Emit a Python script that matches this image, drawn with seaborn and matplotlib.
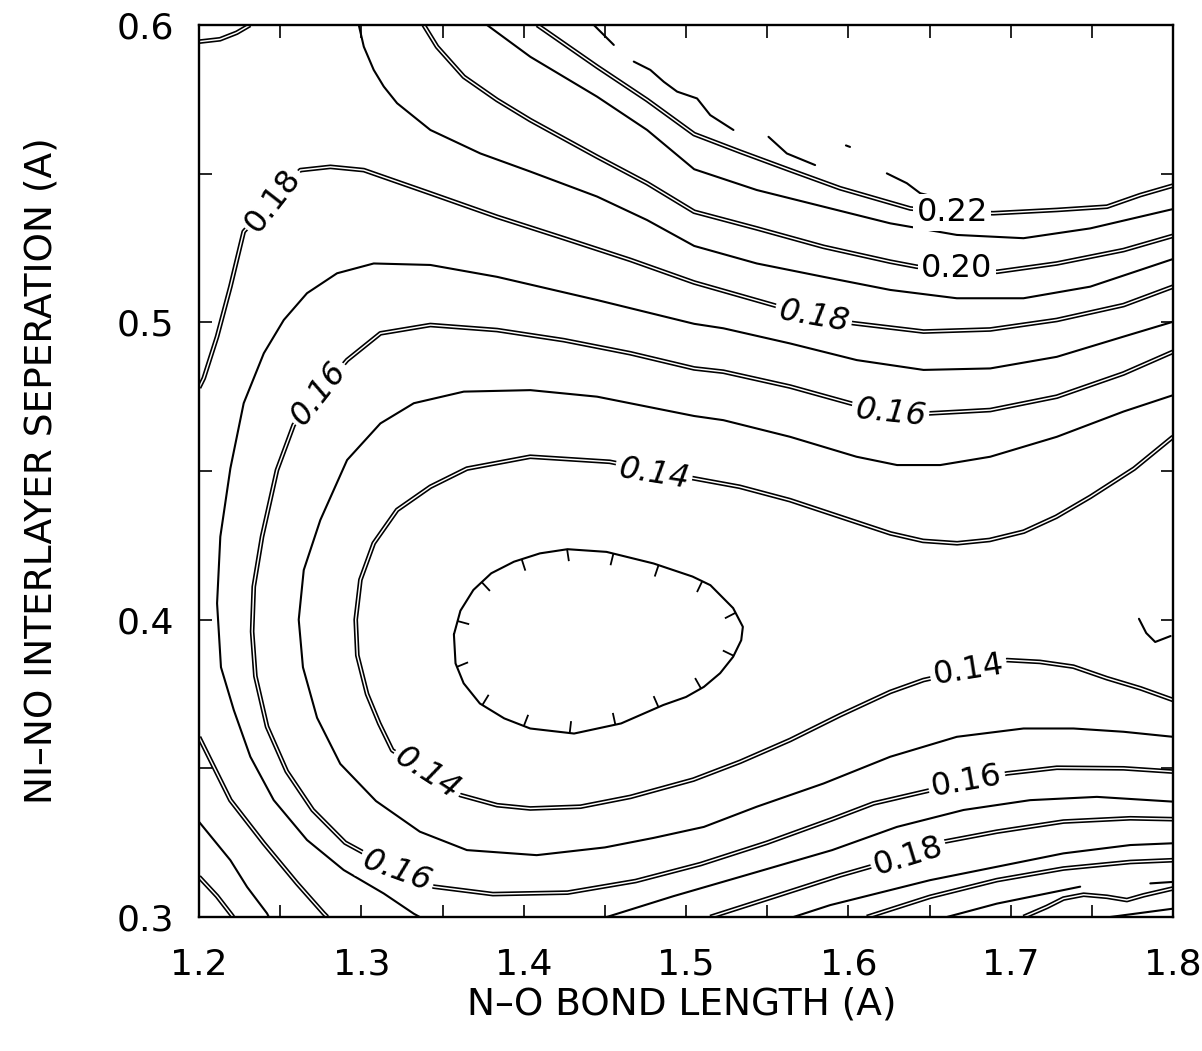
import numpy as np
import matplotlib
matplotlib.use("Agg")
import matplotlib.pyplot as plt
import matplotlib.patheffects as pe
from matplotlib.ticker import MultipleLocator, FormatStrFormatter
import seaborn as sns

# Contour lines of the energy surface.
# x: N-O bond length (A), y: Ni-NO interlayer separation (A)

# 0.13 - closed minimum (hachured) and a small dip at the right edge
c13_loop_x = [1.357, 1.361, 1.369, 1.380, 1.394, 1.410, 1.427, 1.451, 1.480, 1.504, 1.515, 1.529, 1.535,
              1.534, 1.529, 1.521, 1.511, 1.500, 1.486, 1.460, 1.431, 1.404, 1.388, 1.373, 1.363, 1.358, 1.357]
c13_loop_y = [0.395, 0.403, 0.410, 0.4156, 0.4195, 0.4223, 0.4237, 0.4228, 0.4189, 0.4145, 0.4116, 0.4039, 0.3976,
              0.3931, 0.3875, 0.3820, 0.3774, 0.3740, 0.3713, 0.3651, 0.3617, 0.3634, 0.3668, 0.3718, 0.3786, 0.3853, 0.395]
c13_edge_x = [1.779, 1.7835, 1.789, 1.7985]
c13_edge_y = [0.4003, 0.3955, 0.3925, 0.3945]

# 0.14
c14_x = [1.800, 1.776, 1.749, 1.728, 1.708, 1.687, 1.667, 1.646, 1.626, 1.595, 1.564, 1.533, 1.505, 1.481,
         1.453, 1.404, 1.365, 1.3425, 1.322, 1.3076, 1.2994, 1.2965, 1.2975, 1.3035, 1.311, 1.319, 1.3405,
         1.361, 1.3836, 1.404, 1.435, 1.4658, 1.5045, 1.5333, 1.564, 1.595, 1.6258, 1.6463, 1.674, 1.6977,
         1.718, 1.7386, 1.7593, 1.780, 1.800]
c14_y = [0.4615, 0.4508, 0.4413, 0.4346, 0.4296, 0.4268, 0.4257, 0.4265, 0.4290, 0.4346, 0.4402, 0.4447, 0.4475,
         0.4500, 0.4531, 0.4548, 0.4508, 0.4447, 0.4369, 0.4257, 0.4134, 0.4000, 0.3880, 0.3750, 0.3651, 0.3561,
         0.3483, 0.3410, 0.3376, 0.3365, 0.3371, 0.3404, 0.3462, 0.3522, 0.3595, 0.3679, 0.3757, 0.3797, 0.3830,
         0.3864, 0.3858, 0.3842, 0.3803, 0.3769, 0.3730]

# 0.15
c15_x = [1.800, 1.7695, 1.7284, 1.6874, 1.6566, 1.630, 1.605, 1.5641, 1.523, 1.505, 1.4452, 1.4041, 1.3631,
         1.3323, 1.3117, 1.2912, 1.2747, 1.2645, 1.2614, 1.264, 1.2727, 1.287, 1.309, 1.336, 1.365, 1.408,
         1.450, 1.480, 1.511, 1.5436, 1.5847, 1.6258, 1.6668, 1.7079, 1.7387, 1.7695, 1.800]
c15_y = [0.4755, 0.4700, 0.4615, 0.4548, 0.4520, 0.4520, 0.4548, 0.4615, 0.4671, 0.4685, 0.4750, 0.4772, 0.4767,
         0.4728, 0.4660, 0.4537, 0.4335, 0.4167, 0.4000, 0.3840, 0.3670, 0.3515, 0.3390, 0.3287, 0.3225, 0.3208,
         0.3234, 0.3266, 0.3303, 0.3371, 0.3449, 0.3539, 0.3606, 0.3634, 0.3634, 0.3623, 0.3606]

# 0.16
c16_x = [1.800, 1.7695, 1.7284, 1.6874, 1.6504, 1.6258, 1.6011, 1.5641, 1.523, 1.505, 1.4657, 1.4247, 1.3836,
         1.3425, 1.3117, 1.2912, 1.2737, 1.2583, 1.248, 1.2388, 1.2337, 1.2327, 1.2347, 1.2419, 1.254, 1.270,
         1.290, 1.322, 1.3446, 1.381, 1.427, 1.469, 1.509, 1.550, 1.590, 1.6155, 1.6463, 1.673, 1.6977, 1.7284,
         1.7695, 1.800]
c16_y = [0.4901, 0.4828, 0.4750, 0.4705, 0.4694, 0.4694, 0.4728, 0.4784, 0.4834, 0.4845, 0.4896, 0.4940, 0.4974,
         0.4991, 0.4963, 0.4873, 0.4761, 0.4655, 0.4503, 0.4279, 0.4111, 0.3960, 0.3810, 0.3640, 0.3490, 0.3360,
         0.3250, 0.3155, 0.3102, 0.3077, 0.3082, 0.3121, 0.3178, 0.3250, 0.3329, 0.3382, 0.3421, 0.3455, 0.3483,
         0.3502, 0.3500, 0.3489]

# 0.17
c17_x = [1.800, 1.7695, 1.7284, 1.6874, 1.6463, 1.6052, 1.5641, 1.523, 1.505, 1.4452, 1.3836, 1.3425, 1.3076,
         1.285, 1.2665, 1.2522, 1.2399, 1.2275, 1.2193, 1.2131, 1.2111, 1.2135, 1.2214, 1.2316, 1.246, 1.2665,
         1.2891, 1.3138, 1.3323, 1.336]
c17_y = [0.5002, 0.4952, 0.4884, 0.4845, 0.4840, 0.4873, 0.4929, 0.4980, 0.4995, 0.5075, 0.5153, 0.5193, 0.5198,
         0.5165, 0.5098, 0.5008, 0.4896, 0.4728, 0.4509, 0.4279, 0.4055, 0.3840, 0.3696, 0.3539, 0.3393, 0.3259,
         0.3158, 0.3079, 0.3011, 0.3000]
c17_lr_x = [1.4512, 1.4922, 1.5333, 1.590, 1.6299, 1.671, 1.712, 1.7531, 1.800]
c17_lr_y = [0.3000, 0.3070, 0.3135, 0.3225, 0.3303, 0.3360, 0.3393, 0.3404, 0.3388]

# 0.18
c18_ul_x = [1.200, 1.2029, 1.2111, 1.2193, 1.2275, 1.245, 1.2624, 1.2809, 1.3015, 1.3425, 1.3836, 1.4247,
            1.4657, 1.505, 1.5539, 1.5785, 1.6032, 1.6463, 1.6874, 1.7284, 1.7695, 1.800]
c18_ul_y = [0.4780, 0.4812, 0.4952, 0.5120, 0.5305, 0.5410, 0.5512, 0.5523, 0.5512, 0.5434, 0.5355, 0.5283,
            0.5210, 0.5134, 0.5058, 0.5019, 0.4997, 0.4969, 0.4976, 0.5008, 0.5058, 0.5120]
c18_corner_x = [1.200, 1.2129, 1.2232, 1.2314]
c18_corner_y = [0.5944, 0.5952, 0.5974, 0.6000]
c18_ll_x = [1.200, 1.207, 1.2193, 1.2399, 1.2604, 1.2768, 1.279]
c18_ll_y = [0.3605, 0.3528, 0.3393, 0.3248, 0.3113, 0.3012, 0.3000]
c18_lr_x = [1.5149, 1.5539, 1.5949, 1.6134, 1.637, 1.6586, 1.6915, 1.7325, 1.7737, 1.800]
c18_lr_y = [0.3000, 0.3068, 0.3140, 0.3169, 0.3205, 0.3253, 0.3287, 0.3321, 0.3332, 0.3329]

# 0.19
c19_up_x = [1.2984, 1.3015, 1.3076, 1.3138, 1.322, 1.3425, 1.3733, 1.4041, 1.4452, 1.476, 1.505, 1.5436,
            1.5847, 1.6258, 1.6668, 1.7079, 1.749, 1.800]
c19_up_y = [0.6000, 0.5927, 0.5849, 0.5793, 0.5737, 0.5647, 0.5568, 0.5507, 0.5423, 0.5344, 0.5257, 0.5198,
            0.5153, 0.5109, 0.5081, 0.5081, 0.5120, 0.5213]
c19_ll_x = [1.200, 1.2193, 1.2296, 1.2419, 1.243]
c19_ll_y = [0.3320, 0.3191, 0.3101, 0.3012, 0.3000]
c19_lr_x = [1.5662, 1.5888, 1.6504, 1.6915, 1.7325, 1.7737, 1.800]
c19_lr_y = [0.3000, 0.3040, 0.3124, 0.3169, 0.3214, 0.3242, 0.3248]

# 0.20
c20_up_x = [1.3384, 1.3466, 1.3631, 1.3836, 1.4041, 1.4452, 1.476, 1.505, 1.5436, 1.5847, 1.6258, 1.6422,
            1.6668, 1.6915, 1.7284, 1.7695, 1.800]
c20_up_y = [0.6000, 0.5927, 0.5826, 0.5748, 0.5680, 0.5557, 0.5468, 0.5372, 0.5316, 0.5254, 0.5204, 0.5187,
            0.5180, 0.5170, 0.5198, 0.5243, 0.5291]
c20_ll_x = [1.200, 1.2111, 1.2193, 1.221]
c20_ll_y = [0.3135, 0.3070, 0.3012, 0.3000]
c20_lr_x = [1.6114, 1.6504, 1.6915, 1.7325, 1.7737, 1.800]
c20_lr_y = [0.3000, 0.3068, 0.3124, 0.3163, 0.3185, 0.3191]

# 0.21
c21_up_x = [1.3774, 1.4041, 1.4452, 1.476, 1.505, 1.5436, 1.5847, 1.6258, 1.6668, 1.7079, 1.749, 1.800]
c21_up_y = [0.6000, 0.5893, 0.5759, 0.5647, 0.5515, 0.5445, 0.5389, 0.5333, 0.5294, 0.5283, 0.5316, 0.5381]
c21_lr_x = [1.6607, 1.6915, 1.7428]
c21_lr_y = [0.3000, 0.3045, 0.3102]
c21_edge_x = [1.786, 1.800]
c21_edge_y = [0.3113, 0.3118]

# 0.22
c22_up_x = [1.4083, 1.4452, 1.476, 1.505, 1.5333, 1.5641, 1.5949, 1.6381, 1.6641, 1.6894, 1.7284, 1.7593,
            1.7798, 1.800]
c22_up_y = [0.6000, 0.5860, 0.5748, 0.5633, 0.5574, 0.5512, 0.5451, 0.5383, 0.5369, 0.5367, 0.5378, 0.5389,
            0.5428, 0.5460]
c22_lr_x = [1.7079, 1.7223, 1.7325, 1.7449, 1.7593, 1.7716, 1.7819, 1.800]
c22_lr_y = [0.3000, 0.3034, 0.3062, 0.3075, 0.3068, 0.3057, 0.3073, 0.3096]

# 0.23 (broken trace)
c23_a_x = [1.4432, 1.4555]
c23_a_y = [0.6000, 0.5933]
c23_b_x = [1.4678, 1.478, 1.4863, 1.4945, 1.5068, 1.5149, 1.5292]
c23_b_y = [0.5877, 0.5849, 0.5809, 0.5776, 0.5753, 0.5697, 0.5647]
c23_c_x = [1.5508, 1.5621, 1.5795]
c23_c_y = [0.5624, 0.5568, 0.5529]
c23_d_x = [1.5985, 1.6010]
c23_d_y = [0.5595, 0.5590]
c23_e_x = [1.6237, 1.636, 1.6443, 1.6525]
c23_e_y = [0.5501, 0.5468, 0.5434, 0.5423]
c23_lr_x = [1.7613, 1.800]
c23_lr_y = [0.3000, 0.3028]

segments = [
    (0.13, c13_loop_x, c13_loop_y), (0.13, c13_edge_x, c13_edge_y),
    (0.14, c14_x, c14_y),
    (0.15, c15_x, c15_y),
    (0.16, c16_x, c16_y),
    (0.17, c17_x, c17_y), (0.17, c17_lr_x, c17_lr_y),
    (0.18, c18_ul_x, c18_ul_y), (0.18, c18_corner_x, c18_corner_y),
    (0.18, c18_ll_x, c18_ll_y), (0.18, c18_lr_x, c18_lr_y),
    (0.19, c19_up_x, c19_up_y), (0.19, c19_ll_x, c19_ll_y), (0.19, c19_lr_x, c19_lr_y),
    (0.20, c20_up_x, c20_up_y), (0.20, c20_ll_x, c20_ll_y), (0.20, c20_lr_x, c20_lr_y),
    (0.21, c21_up_x, c21_up_y), (0.21, c21_lr_x, c21_lr_y), (0.21, c21_edge_x, c21_edge_y),
    (0.22, c22_up_x, c22_up_y), (0.22, c22_lr_x, c22_lr_y),
    (0.23, c23_a_x, c23_a_y), (0.23, c23_b_x, c23_b_y), (0.23, c23_c_x, c23_c_y),
    (0.23, c23_d_x, c23_d_y), (0.23, c23_e_x, c23_e_y), (0.23, c23_lr_x, c23_lr_y),
]

# contour labels: level and where it sits on its line
label_levels = [0.18, 0.16, 0.14, 0.16, 0.14, 0.18, 0.16, 0.20, 0.22, 0.14, 0.16, 0.18]
label_x = [1.2455, 1.2737, 1.3405, 1.3220, 1.4800, 1.5785, 1.6258, 1.6668, 1.6641, 1.6740, 1.6730, 1.6370]
label_y = [0.5410, 0.4761, 0.3483, 0.3155, 0.4488, 0.5019, 0.4694, 0.5180, 0.5369, 0.3830, 0.3455, 0.3205]
label_angle = [52, 52, -33, -20, -9, -10, -6, 0, 0, 9, 10, 17]
label_italic = [False, True, True, True, True, True, True, False, False, False, False, False]

sns.set_theme(style="ticks")
plt.rcParams["font.family"] = ["DejaVu Sans"]

fig = plt.figure(figsize=(12.02, 10.51), dpi=100)
ax = fig.add_axes([0.1656, 0.1275, 0.8103, 0.8487])
ax.set_xlim(1.2, 1.8)
ax.set_ylim(0.3, 0.6)

for level, xs, ys in segments:
    even = int(round(level * 100)) % 2 == 0
    if even:
        sns.lineplot(x=xs, y=ys, sort=False, estimator=None, ax=ax, color="white", linewidth=1.05,
                     path_effects=[pe.Stroke(linewidth=3.4, foreground="black"), pe.Normal()],
                     solid_capstyle="butt")
    else:
        sns.lineplot(x=xs, y=ys, sort=False, estimator=None, ax=ax, color="black", linewidth=1.5)

# hachures on the closed minimum, pointing inward
pts = ax.transData.transform(np.column_stack([c13_loop_x, c13_loop_y]))
steps = np.diff(pts, axis=0)
seglen = np.hypot(steps[:, 0], steps[:, 1])
cum = np.concatenate([[0.0], np.cumsum(seglen)])
centre = pts[:-1].mean(axis=0)
n_hach = 16
for k in range(n_hach):
    s = (k + 0.3) * cum[-1] / n_hach
    i = min(np.searchsorted(cum, s, side="right") - 1, len(seglen) - 1)
    t = (s - cum[i]) / seglen[i]
    p = pts[i] + t * steps[i]
    d = steps[i] / seglen[i]
    nrm = np.array([-d[1], d[0]])
    if np.dot(centre - p, nrm) < 0:
        nrm = -nrm
    q = p + nrm * 12.0
    seg = ax.transData.inverted().transform(np.vstack([p, q]))
    ax.plot(seg[:, 0], seg[:, 1], color="black", lw=1.3, solid_capstyle="butt")

for lev, lx, ly, ang, it in zip(label_levels, label_x, label_y, label_angle, label_italic):
    ax.text(lx, ly, f"{lev:.2f}", rotation=ang, rotation_mode="anchor", ha="center", va="center",
            fontsize=23, fontstyle="italic" if it else "normal", color="black", zorder=6,
            bbox=dict(boxstyle="square,pad=0.1", fc="white", ec="none"))

ax.xaxis.set_major_locator(MultipleLocator(0.1))
ax.xaxis.set_minor_locator(MultipleLocator(0.05))
ax.yaxis.set_major_locator(MultipleLocator(0.1))
ax.yaxis.set_minor_locator(MultipleLocator(0.05))
ax.xaxis.set_major_formatter(FormatStrFormatter("%.1f"))
ax.yaxis.set_major_formatter(FormatStrFormatter("%.1f"))
ax.tick_params(which="both", direction="in", length=9, width=1.2, color="black",
               top=True, right=True, labelsize=26, labelcolor="black")
ax.tick_params(axis="x", which="major", pad=22)
ax.tick_params(axis="y", which="major", pad=18)
for sp in ax.spines.values():
    sp.set_linewidth(1.7)
    sp.set_color("black")

ax.set_xlabel("N–O BOND LENGTH (A)", fontsize=27, color="black")
ax.set_ylabel("NI–NO INTERLAYER SEPERATION (A)", fontsize=27, color="black")
ax.xaxis.set_label_coords(0.496, -0.078)
ax.yaxis.set_label_coords(-0.143, 0.5)

fig.savefig("out.png", dpi=100, facecolor="white")
